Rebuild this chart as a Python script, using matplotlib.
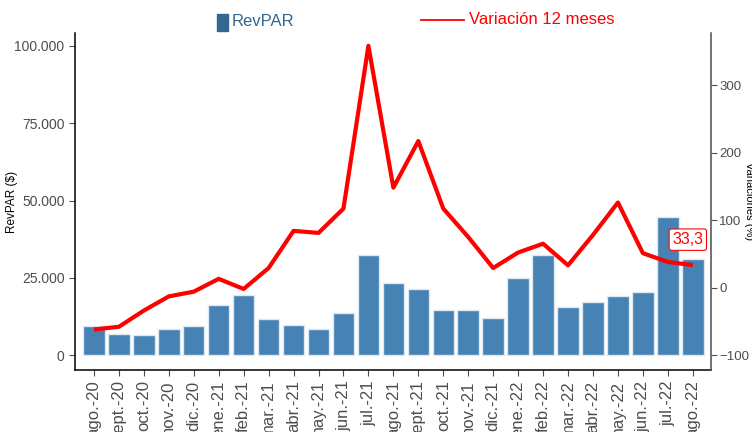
import numpy as np
import matplotlib
matplotlib.use("Agg")
import matplotlib.pyplot as plt
from matplotlib.patches import Rectangle
from matplotlib.lines import Line2D
from matplotlib.ticker import FuncFormatter

plt.rcParams["font.family"] = ["Liberation Sans", "DejaVu Sans"]

meses = ["ago.-20", "sept.-20", "oct.-20", "nov.-20", "dic.-20",
         "ene.-21", "feb.-21", "mar.-21", "abr.-21", "may.-21", "jun.-21", "jul.-21",
         "ago.-21", "sept.-21", "oct.-21", "nov.-21", "dic.-21",
         "ene.-22", "feb.-22", "mar.-22", "abr.-22", "may.-22", "jun.-22", "jul.-22",
         "ago.-22"]
revpar = [9400, 6700, 6600, 8300, 9400,
          16300, 19500, 11600, 9700, 8300, 13500, 32400,
          23400, 21300, 14600, 14500, 12100,
          24800, 32300, 15600, 17200, 19000, 20500, 44600,
          31200]
variacion = [-62, -58, -34, -13, -6,
             13, -2, 29, 84, 81, 117, 358,
             148, 217, 117, 75, 29,
             52, 65, 33, 78, 126, 51, 38,
             33.3]

GRAY = "#4d4d4d"

fig = plt.figure(figsize=(7.52, 4.32), dpi=100)
ax = fig.add_axes([0.0997, 0.1435, 0.8458, 0.7801])
x = np.arange(len(meses))

ax.bar(x, revpar, width=0.86, color="#4682b4", edgecolor="#dce8f2", linewidth=1, zorder=2)
ax.set_xlim(-0.76, len(meses) - 0.27)
ax.set_ylim(-4850, 104200)
ax.set_yticks([0, 25000, 50000, 75000, 100000])
ax.yaxis.set_major_formatter(FuncFormatter(lambda v, p: f"{int(v):,}".replace(",", ".")))
ax.set_xticks(x)
ax.set_xticklabels(meses, rotation=90, fontsize=12, color=GRAY)
ax.tick_params(axis="y", labelsize=10, labelcolor=GRAY, color=GRAY, length=4)
ax.tick_params(axis="x", color=GRAY, length=4)
ax.set_ylabel("RevPAR ($)", fontsize=8.5)
ax.yaxis.set_label_coords(-0.09, 0.5)
for s in ["top", "right"]:
    ax.spines[s].set_visible(False)
ax.spines["left"].set_linewidth(1.1)
ax.spines["bottom"].set_linewidth(1.1)

ax2 = ax.twinx()
ax2.plot(x, variacion, color="red", lw=3, solid_capstyle="butt", zorder=3)
ax2.set_ylim(-122, 377)
ax2.set_yticks([-100, 0, 100, 200, 300])
ax2.tick_params(axis="y", labelsize=9.5, labelcolor=GRAY, color=GRAY, length=4, pad=2)
ax2.set_ylabel("Variaciones (%)", fontsize=8, rotation=270, va="center")
ax2.yaxis.set_label_coords(1.06, 0.5)
for s in ["top", "left", "bottom"]:
    ax2.spines[s].set_visible(False)
ax2.spines["right"].set_color(GRAY)
ax2.spines["right"].set_linewidth(1.1)

ax2.text(x[-1] - 0.2, 71, f"{variacion[-1]:.1f}".replace(".", ","), color="red", fontsize=11.5,
         ha="center", va="center",
         bbox=dict(boxstyle="round,pad=0.2,rounding_size=0.15", fc="white", ec="red", lw=0.8))

# leyenda superior
fig.add_artist(Rectangle((217 / 752, 1 - 30.5 / 432), 11 / 752, 16.5 / 432,
                         transform=fig.transFigure, color="#356690"))
fig.text(232 / 752, 1 - 22 / 432, "RevPAR", color="#356690", fontsize=12, va="center")
fig.add_artist(Line2D([421 / 752, 464 / 752], [1 - 20 / 432, 1 - 20 / 432],
                      transform=fig.transFigure, color="red", lw=1.3))
fig.text(469 / 752, 1 - 19.5 / 432, "Variación 12 meses", color="red", fontsize=12, va="center")

fig.savefig("out.png", dpi=100)
